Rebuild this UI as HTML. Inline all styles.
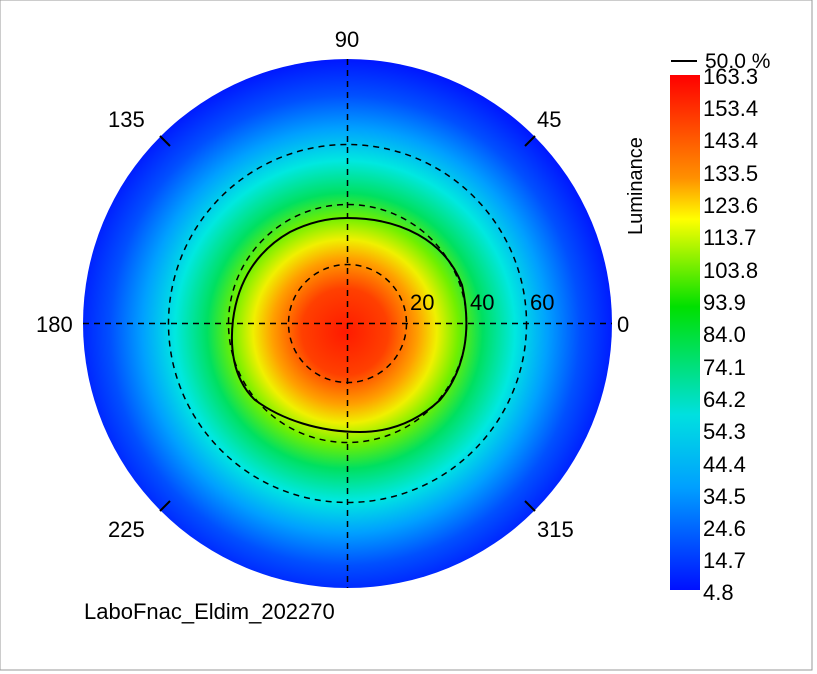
<!DOCTYPE html>
<html><head><style>
body{margin:0;background:#fff;}
svg{display:block;font-family:"Liberation Sans",sans-serif;}
</style></head><body>
<svg width="817" height="674" viewBox="0 0 817 674">
<defs>
<radialGradient id="g" gradientUnits="userSpaceOnUse" cx="345" cy="330" r="270" fx="345" fy="332">
<stop offset="0" stop-color="#ff1a00"/>
<stop offset="0.16" stop-color="#ff4000"/>
<stop offset="0.27" stop-color="#ffa000"/>
<stop offset="0.34" stop-color="#f0f000"/>
<stop offset="0.42" stop-color="#70f000"/>
<stop offset="0.51" stop-color="#00e060"/>
<stop offset="0.63" stop-color="#00e8e0"/>
<stop offset="0.75" stop-color="#00a0ff"/>
<stop offset="0.87" stop-color="#0050ff"/>
<stop offset="1" stop-color="#0018ff"/>
</radialGradient>
<linearGradient id="cb" x1="0" y1="0" x2="0" y2="1">
<stop offset="0" stop-color="#ff0000"/>
<stop offset="0.2" stop-color="#ff9000"/>
<stop offset="0.28" stop-color="#ffff00"/>
<stop offset="0.45" stop-color="#00e000"/>
<stop offset="0.66" stop-color="#00e0e0"/>
<stop offset="0.8" stop-color="#00a0ff"/>
<stop offset="1" stop-color="#0010ff"/>
</linearGradient>
</defs>
<rect x="0" y="0" width="812" height="670" fill="#fff" stroke="#999" stroke-width="1"/>
<circle cx="347.5" cy="323.5" r="264.5" fill="url(#g)"/>
<g fill="none" stroke="#000" stroke-width="1.5" stroke-dasharray="6,5">
<circle cx="347.5" cy="323.5" r="59"/>
<circle cx="347.5" cy="323.5" r="119"/>
<circle cx="347.5" cy="323.5" r="179"/>
<line x1="83" y1="323.5" x2="612" y2="323.5"/>
<line x1="347.5" y1="59" x2="347.5" y2="588"/>
</g>
<path d="M347,218 C400,218 445,240 462,285 C472,330 465,370 440,400 C410,428 380,432 360,432 C320,432 282,420 255,400 C232,378 230,345 233,320 C238,280 258,250 290,232 C310,222 330,218 347,218 Z" fill="none" stroke="#000" stroke-width="2"/>
<g stroke="#000" stroke-width="2">
<line x1="160" y1="136" x2="170" y2="146"/>
<line x1="535" y1="136" x2="525" y2="146"/>
<line x1="160" y1="511" x2="170" y2="501"/>
<line x1="535" y1="511" x2="525" y2="501"/>
</g>
<g font-size="22" fill="#000">
<text x="347" y="47" text-anchor="middle">90</text>
<text x="108" y="127">135</text>
<text x="537" y="127">45</text>
<text x="36" y="332">180</text>
<text x="617" y="332">0</text>
<text x="108" y="537">225</text>
<text x="537" y="537">315</text>
<text x="410" y="310">20</text>
<text x="470" y="310">40</text>
<text x="530" y="310">60</text>
<text x="84" y="619">LaboFnac_Eldim_202270</text>
</g>
<rect x="670" y="75" width="30" height="515" fill="url(#cb)"/>
<line x1="671" y1="61" x2="697" y2="61" stroke="#000" stroke-width="2"/>
<text x="705" y="68" font-size="21">50.0 %</text>
<text transform="translate(642,235) rotate(-90)" font-size="20">Luminance</text>
<g font-size="22" fill="#000">
<text x="703" y="84">163.3</text>
<text x="703" y="116">153.4</text>
<text x="703" y="148">143.4</text>
<text x="703" y="181">133.5</text>
<text x="703" y="213">123.6</text>
<text x="703" y="245">113.7</text>
<text x="703" y="278">103.8</text>
<text x="703" y="310">93.9</text>
<text x="703" y="342">84.0</text>
<text x="703" y="375">74.1</text>
<text x="703" y="407">64.2</text>
<text x="703" y="439">54.3</text>
<text x="703" y="472">44.4</text>
<text x="703" y="504">34.5</text>
<text x="703" y="536">24.6</text>
<text x="703" y="568">14.7</text>
<text x="703" y="600">4.8</text>
</g>
</svg>
</body></html>
